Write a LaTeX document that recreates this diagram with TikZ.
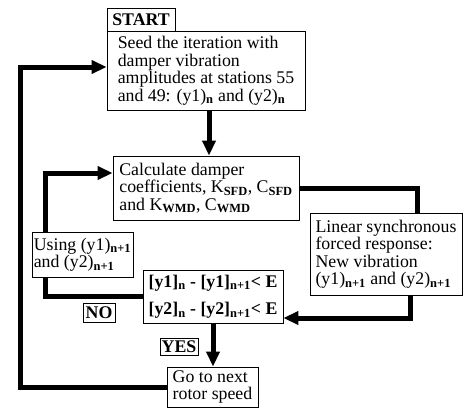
\documentclass[tikz,border=0pt]{standalone}
\usepackage{fontspec}
\setmainfont{Liberation Serif}
\usetikzlibrary{arrows.meta,calc}
\newcommand\sbx[1]{\textsubscript{\textbf{#1}}}
\begin{document}
\begin{tikzpicture}[x=1pt,y=-1pt,
  box/.style={draw,line width=0.8pt,fill=white,align=left,inner sep=0pt,
    font=\fontsize{17.8}{17.5}\selectfont},
  tag/.style={draw,line width=0.8pt,fill=white,inner sep=0pt,
    font=\fontsize{17.8}{17.5}\selectfont\bfseries},
  thickline/.style={line width=5pt,line join=miter},
  flow/.style={thickline,-{Triangle[length=15pt,width=13pt]}}]
\useasboundingbox (0,0) rectangle (463,410);

% boxes
\node[tag,minimum width=68pt,minimum height=23pt] (start) at (141,19.5) {START};
\node[box,minimum width=198pt,minimum height=79pt] (seed) at (206,70.5)
  {Seed the iteration with\\damper vibration\\amplitudes at stations 55\\and 49: (y1)\sbx{n} and (y2)\sbx{n}};
\node[box,minimum width=186pt,minimum height=64pt] (calc) at (206,188)
  {Calculate damper\\coefficients, K\sbx{SFD}, C\sbx{SFD}\\and K\sbx{WMD}, C\sbx{WMD}};
\node[box,minimum width=152pt,minimum height=82pt] (linear) at (386,254)
  {Linear synchronous\\forced response:\\New vibration\\(y1)\sbx{n+1} and (y2)\sbx{n+1}};
\node[box,minimum width=101pt,minimum height=45pt] (using) at (82.5,254.5)
  {Using (y1)\sbx{n+1}\\and (y2)\sbx{n+1}};
\node[box,font=\fontsize{17.8}{17.5}\selectfont\bfseries,minimum width=140pt,minimum height=53pt] (cond) at (213,296.5)
  {[y1]\sbx{n} - [y1]\sbx{n+1}< E\\[10pt][y2]\sbx{n} - [y2]\sbx{n+1}< E};
\node[tag,minimum width=32pt,minimum height=19pt] (no) at (99,312.5) {NO};
\node[tag,minimum width=38pt,minimum height=17pt] (yes) at (179,346.5) {YES};
\node[box,minimum width=91pt,minimum height=40pt] (go) at (212.5,387)
  {Go to next\\rotor speed};

% connectors
\draw[flow] ([xshift=3pt]seed.south) -- ([xshift=3pt]seed.south |- calc.north);
\draw[thickline] (calc.east) -| ([xshift=31pt]linear.north);
\draw[flow] ([xshift=24pt]linear.south) |- ([yshift=-21.5pt]cond.east);
\draw[thickline] (cond.west) -| ([xshift=-37.5pt]using.south);
\draw[flow] ([xshift=-37.5pt]using.north) |- ([yshift=15pt]calc.west);
\draw[flow] (cond.south) -- (cond.south |- go.north);
\coordinate (loopx) at (20,67);
\draw[flow] (go.west) -| (loopx) -- ([yshift=3.5pt]seed.west);
\end{tikzpicture}
\end{document}
